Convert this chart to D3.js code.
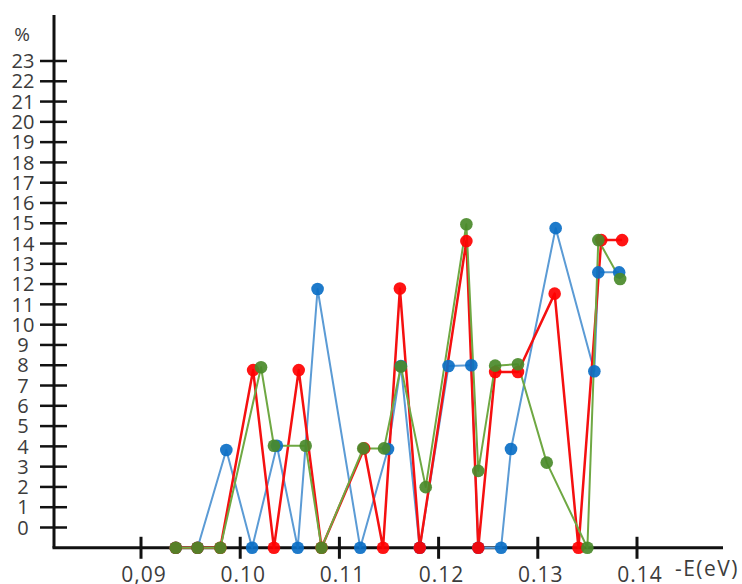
<!DOCTYPE html>
<html>
<head>
<meta charset="utf-8">
<script src="https://cdn.jsdelivr.net/npm/d3@7"></script>
<style>
  html, body { margin: 0; padding: 0; background: #fff; }
  svg { display: block; }
  text { font-family: "Open Sans", "Noto Sans", sans-serif; fill: #3c3c3c; }
</style>
</head>
<body>
<svg id="chart" width="742" height="584"></svg>
<script>
// ---- data ----
// x = -E (eV); y = % ; points lying on the horizontal axis are at -1 on the printed scale
const blueX = [0.0935, 0.0957, 0.0986, 0.1012, 0.1037, 0.1058, 0.1078, 0.1121, 0.1149, 0.1162, 0.1181, 0.1210, 0.1233, 0.1240, 0.1263, 0.1273, 0.1318, 0.1357, 0.1361, 0.1382];
const blueY = [-1, -1, 3.82, -1, 4.03, -1, 11.76, -1, 3.87, 7.96, -1, 7.96, 8.0, -1, -1, 3.87, 14.76, 7.7, 12.58, 12.58];

const redX = [0.0935, 0.0957, 0.0980, 0.1013, 0.1034, 0.1059, 0.1082, 0.1125, 0.1144, 0.1161, 0.1181, 0.1228, 0.1240, 0.1257, 0.1280, 0.1317, 0.1341, 0.1364, 0.1385];
const redY = [-1, -1, -1, 7.76, -1, 7.76, -1, 3.9, -1, 11.78, -1, 14.12, -1, 7.67, 7.67, 11.53, -1, 14.17, 14.17];

const greenX = [0.0935, 0.0957, 0.0980, 0.1021, 0.1034, 0.1066, 0.1082, 0.1124, 0.1145, 0.1162, 0.1187, 0.1228, 0.1240, 0.1257, 0.1280, 0.1309, 0.1350, 0.1361, 0.1383];
const greenY = [-1, -1, -1, 7.9, 4.03, 4.03, -1, 3.9, 3.9, 7.94, 1.99, 14.95, 2.79, 7.98, 8.05, 3.2, -1, 14.17, 12.25];

const xTickValues = [0.09, 0.10, 0.11, 0.12, 0.13, 0.14];
const xTickLabels = ["0,09", "0.10", "0.11", "0.12", "0.13", "0.14"];
const yTickValues = d3.range(0, 24);
const yTickLabels = yTickValues.map(String);
const xTitle = "-E(eV)";
const yTitle = "%";

// ---- layout ----
const svg = d3.select("#chart");
const axisX0 = 54, axisX1 = 723;
const x = d3.scaleLinear().domain([0.09, 0.14]).range([141, 637]);
const y = d3.scaleLinear().domain([0, 23]).range([527.5, 61]);
const baseY = y(-1);

// axes lines
svg.append("line").attr("x1", axisX0).attr("x2", axisX0).attr("y1", 15).attr("y2", baseY)
  .attr("stroke", "#111").attr("stroke-width", 3);
svg.append("line").attr("x1", axisX0 - 1.5).attr("x2", axisX1).attr("y1", baseY).attr("y2", baseY)
  .attr("stroke", "#111").attr("stroke-width", 3);

// y ticks + labels
const yt = svg.append("g").selectAll("g").data(yTickValues).join("g")
  .attr("transform", d => `translate(0,${y(d)})`);
yt.append("line").attr("x1", 40).attr("x2", 67).attr("stroke", "#111").attr("stroke-width", 2.5);
yt.append("text").attr("x", 23).attr("dy", "0.36em").attr("text-anchor", "middle")
  .attr("font-size", 20).text((d, i) => yTickLabels[i]);
svg.append("text").attr("x", 22).attr("y", 41).attr("text-anchor", "middle")
  .attr("font-size", 19).text(yTitle);

// x ticks + labels
const xt = svg.append("g").selectAll("g").data(xTickValues).join("g")
  .attr("transform", d => `translate(${x(d)},0)`);
xt.append("line").attr("y1", baseY - 11).attr("y2", baseY + 11).attr("stroke", "#111").attr("stroke-width", 3);
xt.append("text").attr("x", 3).attr("y", 582).attr("text-anchor", "middle")
  .attr("font-size", 21).attr("letter-spacing", 1).text((d, i) => xTickLabels[i]);
svg.append("text").attr("x", 707).attr("y", 576).attr("text-anchor", "middle")
  .attr("font-size", 21).attr("letter-spacing", 1.5).text(xTitle);

// series
const series = [
  { xs: blueX, ys: blueY, line: "#5b9bd5", mark: "#0b6fc6", w: 2 },
  { xs: redX, ys: redY, line: "#f51010", mark: "#ff0000", w: 2.5 },
  { xs: greenX, ys: greenY, line: "#6fa843", mark: "#4a8a2a", w: 2 }
];
const lineGen = d3.line().x(d => x(d[0])).y(d => y(d[1]));
series.forEach(s => {
  const pts = s.xs.map((v, i) => [v, s.ys[i]]);
  svg.append("path").datum(pts).attr("d", lineGen)
    .attr("fill", "none").attr("stroke", s.line).attr("stroke-width", s.w).attr("stroke-linejoin", "round");
});
series.forEach(s => {
  const pts = s.xs.map((v, i) => [v, s.ys[i]]);
  svg.append("g").selectAll("circle").data(pts).join("circle")
    .attr("cx", d => x(d[0])).attr("cy", d => y(d[1])).attr("r", 6.3)
    .attr("fill", s.mark).attr("fill-opacity", 0.92);
});
</script>
</body>
</html>
